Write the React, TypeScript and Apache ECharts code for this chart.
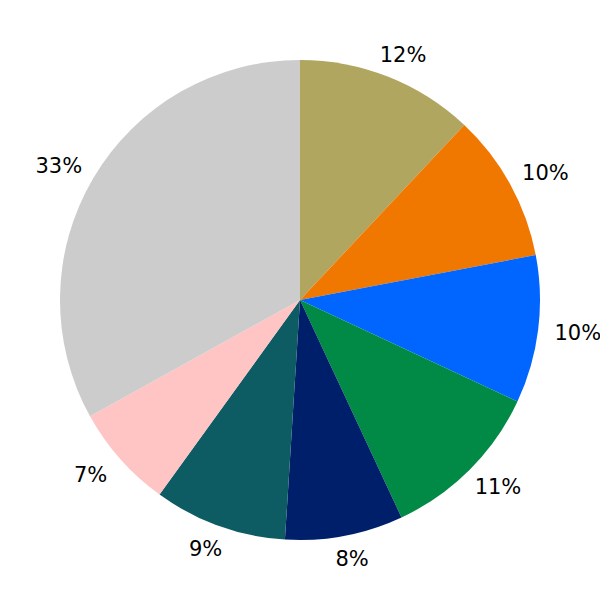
import React, { useEffect, useRef } from "react";
import * as echarts from "echarts";

const categories = ["A", "B", "C", "D", "E", "F", "G", "H"];
const values = [12.0, 10.0, 9.95, 11.1, 7.95, 8.95, 7.0, 33.05];
const colors = ["#B0A660", "#F07800", "#0066FF", "#008A45", "#001F6B", "#0D5C63", "#FFC4C4", "#CCCCCC"];

const CX = 300;
const CY = 300;
const R = 240;

export default function App() {
  const ref = useRef<HTMLDivElement>(null);
  useEffect(() => {
    if (!ref.current) return;
    const chart = echarts.init(ref.current, null, { renderer: "svg" });
    const total = values.reduce((a, b) => a + b, 0);
    const mids: number[] = [];
    let cum = 0;
    values.forEach((v) => {
      mids.push(((cum + v / 2) / total) * Math.PI * 2);
      cum += v;
    });
    const fontSize = 21;
    const RY = R * 1.1;
    const RX = R * 1.1 + 16;
    chart.setOption({
      animation: false,
      backgroundColor: "#ffffff",
      series: [
        {
          type: "pie",
          center: [CX, CY],
          radius: [0, R],
          startAngle: 90,
          clockwise: true,
          silent: true,
          avoidLabelOverlap: false,
          data: categories.map((c, i) => ({
            name: c,
            value: values[i],
            itemStyle: { color: colors[i] },
          })),
          label: {
            show: true,
            position: "inside",
            overflow: "none",
            formatter: (p: any) => Math.round(p.percent) + "%",
            color: "#000000",
            fontFamily: "DejaVu Sans",
            fontSize: fontSize,
          },
          labelLine: { show: false },
          labelLayout: (params: any) => {
            const a = mids[params.dataIndex];
            return {
              x: CX + Math.sin(a) * RX,
              y: CY - Math.cos(a) * RY,
              align: "center",
              verticalAlign: "middle",
            };
          },
          itemStyle: { borderWidth: 0 },
        },
      ],
    });
    return () => chart.dispose();
  }, []);
  return (
    <div
      ref={ref}
      style={{ position: "fixed", left: 0, top: 0, width: 600, height: 600 }}
    />
  );
}
